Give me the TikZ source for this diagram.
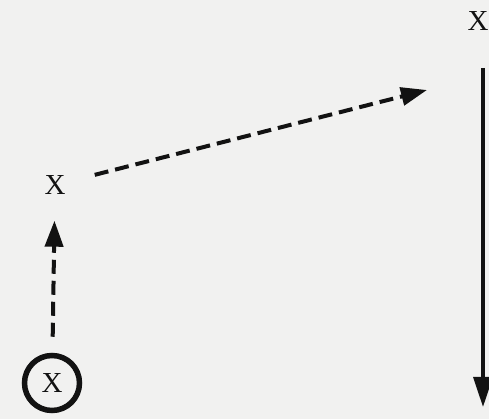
\documentclass[tikz,border=0pt]{standalone}
\usepackage{fontspec}
\setmainfont{Liberation Serif}
\usepackage{tikz}
\usetikzlibrary{positioning,arrows.meta,calc}
\definecolor{paper}{HTML}{F1F1F0}
\definecolor{ink}{HTML}{121212}

\begin{document}
\begin{tikzpicture}[x=1pt, y=1pt,
  font=\fontsize{29pt}{30pt}\selectfont,
  xmark/.style={inner sep=0pt, text=ink},
  startmark/.style={xmark, circle, draw=ink, line width=5.5pt, minimum size=55pt},
  dashflow/.style={-{Triangle[length=26pt, width=18pt]}, line width=4pt, draw=ink,
                   dash pattern=on 14pt off 7pt},
  solidflow/.style={-{Triangle[length=30pt, width=19pt]}, line width=3.5pt, draw=ink}]
\fill[paper] (0,0) rectangle (489,419);
\useasboundingbox (0,0) rectangle (489,419);
\node[startmark] (start) at (52,36) {X};
\node[xmark] (mid) at (55,234) {X};
\node[xmark] (corner) at (478,398) {X};
\coordinate (tip) at (427,329);
\coordinate (pathtop) at (483,351);
\coordinate (pathend) at (483,12);
\draw[dashflow, shorten <=16pt, shorten >=26pt] (start) -- (mid);
\draw[dashflow, shorten <=30pt] (mid) -- (tip);
\draw[solidflow] (pathtop) -- (pathend);
\end{tikzpicture}
\end{document}
